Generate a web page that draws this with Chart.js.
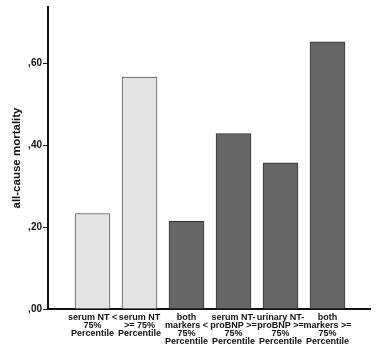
<!DOCTYPE html>
<html><head><meta charset="utf-8">
<script src="https://cdn.jsdelivr.net/npm/chart.js@4"></script>
<style>html,body{margin:0;padding:0;background:#fff}#wrap{width:377px;height:355px}</style>
</head><body><div id="wrap"><canvas id="c"></canvas></div>
<script>
const categories = [
  ["serum NT <","75%","Percentile"],
  ["serum NT",">= 75%","Percentile"],
  ["both","markers <","75%","Percentile"],
  ["serum NT-","proBNP >=","75%","Percentile"],
  ["urinary NT-","proBNP >=","75%","Percentile"],
  ["both","markers >=","75%","Percentile"]
];
const mortality = [0.233, 0.566, 0.214, 0.428, 0.357, 0.652];
const yTicks = [0, 0.2, 0.4, 0.6];
const yTickLabels = [",00", ",20", ",40", ",60"];
const isCombined = [false, false, true, true, true, true];

const fills = isCombined.map(c => c ? '#666666' : '#e3e3e3');
const borders = isCombined.map(c => c ? '#333333' : '#555555');

new Chart(document.getElementById('c'), {
  type: 'bar',
  data: {
    datasets: [{
      data: mortality.map((v, i) => ({x: i, y: v})),
      backgroundColor: fills,
      borderColor: borders,
      borderWidth: 1,
      borderSkipped: 'bottom',
      barThickness: 35
    }]
  },
  options: {
    responsive: true,
    maintainAspectRatio: false,
    animation: false,
    devicePixelRatio: 1,
    layout: {padding: {top: 5, right: 7, left: 10, bottom: 0}},
    plugins: {legend: {display: false}, tooltip: {enabled: false}},
    scales: {
      x: {
        type: 'linear',
        offset: false,
        min: -0.947,
        max: 5.904,
        afterBuildTicks: (axis) => { axis.ticks = categories.map((_, i) => ({value: i})); },
        afterFit: (axis) => { axis.height = 46; },
        grid: {display: false, drawTicks: false},
        border: {display: true, color: '#111', width: 2},
        ticks: {
          autoSkip: false,
          maxRotation: 0,
          padding: 5,
          color: '#111',
          font: {family: 'Liberation Sans, Arial', size: 9, weight: 'bold', lineHeight: 0.86},
          callback: (v) => categories[v] || ''
        }
      },
      y: {
        min: 0,
        max: 0.737,
        afterBuildTicks: (axis) => { axis.ticks = yTicks.map(v => ({value: v})); },
        afterFit: (axis) => { axis.width = 38; },
        grid: {display: true, drawOnChartArea: false, drawTicks: true, tickLength: 5, color: '#111', tickWidth: 1},
        border: {display: true, color: '#111', width: 2},
        title: {display: true, text: 'all-cause mortality', color: '#111',
          font: {family: 'Liberation Sans, Arial', size: 11.5, weight: 'bold'}, padding: {top: 0, bottom: 0}},
        ticks: {
          padding: 1,
          color: '#111',
          font: {family: 'Liberation Sans, Arial', size: 10, weight: 'bold'},
          callback: (v) => { const i = yTicks.indexOf(v); return i >= 0 ? yTickLabels[i] : ''; }
        }
      }
    }
  }
});
</script></body></html>
